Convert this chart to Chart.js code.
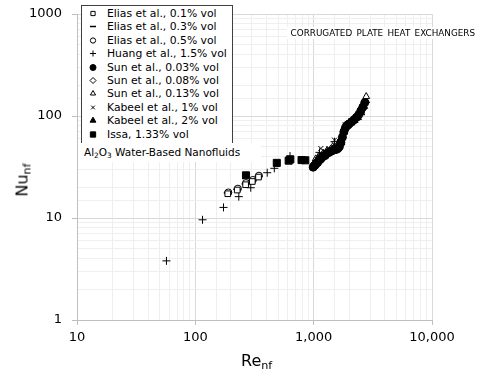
<!DOCTYPE html>
<html>
<head>
<meta charset="utf-8">
<script src="https://cdn.jsdelivr.net/npm/chart.js@4/dist/chart.umd.min.js"></script>
<style>
    body { margin: 0; background: #fff; font-family: "DejaVu Sans", Verdana, sans-serif; color: #000; }
    #wrap { position: relative; width: 480px; height: 376px; }
    #chart { position: absolute; left: 0; top: 0; }
    #legend { position: absolute; left: 81px; top: 5px; width: 152px; height: 143px; border: 1px solid #404040;
              background: #fff; font-size: 10.8px; padding-top: 1px; box-sizing: border-box; }
    .row { position: relative; height: 13.4px; line-height: 13.4px; white-space: nowrap; }
    .row canvas { position: absolute; left: 4px; top: 0; }
    .row span { position: absolute; left: 25px; top: 0; }
    .note { position: absolute; background: #fff; white-space: nowrap; }
    .title { position: absolute; font-size: 16px; white-space: nowrap; }
    sub { font-size: 70%; vertical-align: -0.25em; line-height: 0; }
</style>
</head>
<body>
<div id="wrap">
    <canvas id="chart" width="480" height="376"></canvas>
    <div id="legend"></div>
    <div class="note" style="right: 5px; top: 27px; font-size: 8.8px; word-spacing: 1.5px; padding: 1px 0 1px 4px;">CORRUGATED PLATE HEAT EXCHANGERS</div>
    <div class="note" style="left: 78px; top: 143px; width: 183px; height: 19px; font-size: 10.5px; line-height: 19px; padding-left: 6px; box-sizing: border-box;">Al<sub>2</sub>O<sub>3</sub> Water-Based Nanofluids</div>
    <div class="title" style="left: 241px; top: 351px;">Re<sub>nf</sub></div>
    <div class="title" style="left: 22px; top: 180px; transform: translate(-50%, -50%) rotate(-90deg);">Nu<sub>nf</sub></div>
</div>
<script>
// values (Re, Nu)
var elias01Re = [188, 226, 266, 303, 342];
var elias01Nu = [17.3, 18.8, 21.2, 22.8, 25.2];
var elias03Re = [188, 226, 266, 303, 342];
var elias03Nu = [17.6, 19.1, 21.6, 23.2, 25.6];
var elias05Re = [190, 229, 268, 306, 345];
var elias05Nu = [17.8, 19.4, 22.0, 23.6, 26.0];
var huangRe = [57, 115, 173, 233, 294, 405, 465, 631, 1120, 1500];
var huangNu = [3.8, 9.6, 12.7, 16.2, 19.8, 27.8, 30.7, 40.5, 44, 56];
var sun003Re = [990, 1010, 1030, 1060, 1080, 1120, 1150, 1200, 1250, 1300, 1350, 1400, 1450, 1500, 1550, 1600,
                1650, 1700, 1750, 1800, 1850, 1900, 1950, 2000, 2100, 2200, 2300, 2400, 2500, 2600, 2700];
var sun003Nu = [31.5, 32.5, 33, 34.5, 35, 37, 38, 40, 41, 43, 44, 45, 46, 47, 47, 48,
                50, 55, 62, 70, 76, 80, 82, 84, 88, 92, 97, 103, 112, 122, 135];
var sun008Re = [1000, 1060, 1120, 1200, 1300, 1400, 1500, 1600, 1700, 1800, 1900, 2000];
var sun008Nu = [33, 36, 39, 41, 44, 47, 49, 51, 58, 68, 78, 84];
var sun013Re = [1040, 1100, 1200, 1300, 1450, 1600, 1750, 1850, 2000, 2150, 2300, 2450, 2600, 2700, 2780];
var sun013Nu = [38, 40, 43, 46, 50, 53, 65, 80, 87, 92, 99, 110, 125, 140, 155];
var kabeel1Re = [1150, 1250, 1350, 1500, 1650, 1750, 1850, 2000, 2200, 2400, 2550, 2700];
var kabeel1Nu = [48, 45, 47, 58, 55, 66, 82, 85, 93, 103, 118, 135];
var kabeel2Re = [1100, 1200, 1300, 1400, 1550, 1700, 1800, 1900, 2050, 2200, 2350, 2500, 2650, 2750];
var kabeel2Nu = [39, 42, 45, 47, 49, 55, 70, 80, 86, 91, 97, 108, 125, 142];
var issaRe = [268, 488, 615, 635, 790, 850];
var issaNu = [26.2, 34.7, 36.5, 37.5, 37, 36.8];

var xTicks = [10, 100, 1000, 10000];
var yTicks = [1, 10, 100, 1000];

function pts(xs, ys) {
    return xs.map(function(x, i) { return { x: x, y: ys[i] }; });
}

// label, data, point style, radius, filled
var series = [
    ['Elias et al., 0.1% vol', pts(elias01Re, elias01Nu), 'rect', 4, false],
    ['Elias et al., 0.3% vol', pts(elias03Re, elias03Nu), 'line', 4, true],
    ['Elias et al., 0.5% vol', pts(elias05Re, elias05Nu), 'circle', 3.5, false],
    ['Huang et al., 1.5% vol', pts(huangRe, huangNu), 'cross', 4, true],
    ['Sun et al., 0.03% vol', pts(sun003Re, sun003Nu), 'circle', 4, true],
    ['Sun et al., 0.08% vol', pts(sun008Re, sun008Nu), 'rectRot', 4, false],
    ['Sun et al., 0.13% vol', pts(sun013Re, sun013Nu), 'triangle', 4, false],
    ['Kabeel et al., 1% vol', pts(kabeel1Re, kabeel1Nu), 'crossRot', 3.5, true],
    ['Kabeel et al., 2% vol', pts(kabeel2Re, kabeel2Nu), 'triangle', 4.5, true],
    ['Issa, 1.33% vol', pts(issaRe, issaNu), 'rect', 5, true]
];

function isPow10(v) {
    var l = Math.log10(v);
    return Math.abs(l - Math.round(l)) < 1e-9;
}

var datasets = series.map(function(s) {
    return {
        label: s[0],
        data: s[1],
        pointStyle: s[2],
        pointRadius: s[3],
        pointHoverRadius: s[3],
        borderColor: '#000',
        backgroundColor: s[4] ? '#000' : '#fff',
        borderWidth: s[2] == 'line' ? 1.5 : 1,
        showLine: false
    };
});

var gridColor = function(ctx) {
    return ctx.tick && isPow10(ctx.tick.value) ? '#d9d9d9' : '#efefef';
};
var tickColor = function(ctx) {
    return ctx.tick && isPow10(ctx.tick.value) ? '#bfbfbf' : 'rgba(0,0,0,0)';
};

new Chart(document.getElementById('chart'), {
    type: 'scatter',
    data: { datasets: datasets },
    options: {
        responsive: false,
        animation: false,
        events: [],
        layout: { padding: { left: 0, right: 48, top: 14, bottom: 0 } },
        plugins: { legend: { display: false }, tooltip: { enabled: false } },
        scales: {
            x: {
                type: 'logarithmic',
                min: xTicks[0],
                max: xTicks[xTicks.length - 1],
                border: { color: '#bfbfbf' },
                grid: { color: gridColor, tickColor: tickColor, tickLength: 5 },
                ticks: {
                    autoSkip: false,
                    maxRotation: 0,
                    padding: 5,
                    color: '#000',
                    font: { family: 'DejaVu Sans', size: 13 },
                    callback: function(v) {
                        return xTicks.indexOf(v) >= 0 ? Number(v).toLocaleString('en-US') : '';
                    }
                },
                afterFit: function(scale) { scale.height = 56; }
            },
            y: {
                type: 'logarithmic',
                min: yTicks[0],
                max: yTicks[yTicks.length - 1],
                border: { color: '#bfbfbf' },
                grid: { color: gridColor, tickColor: tickColor, tickLength: 5 },
                ticks: {
                    autoSkip: false,
                    padding: 10,
                    color: '#000',
                    font: { family: 'DejaVu Sans', size: 13 },
                    callback: function(v) {
                        return yTicks.indexOf(v) >= 0 ? String(v) : '';
                    }
                },
                afterFit: function(scale) {
                    scale.width = 77;
                    // tick padding would otherwise push the plot top down
                    scale.paddingTop = 8;
                    scale.paddingBottom = 8;
                }
            }
        }
    }
});

// legend box drawn by hand so it can sit inside the plot area
var legend = document.getElementById('legend');
series.forEach(function(s, i) {
    var row = document.createElement('div');
    row.className = 'row';
    var c = document.createElement('canvas');
    c.width = 14; c.height = 13;
    var ctx = c.getContext('2d');
    ctx.strokeStyle = '#000';
    ctx.fillStyle = s[4] ? '#000' : '#fff';
    ctx.lineWidth = s[2] == 'line' ? 1.5 : 1;
    Chart.helpers.drawPoint(ctx, { pointStyle: s[2], radius: s[3] * 0.75, rotation: 0, borderWidth: ctx.lineWidth }, 7, 6.5);
    row.appendChild(c);
    var t = document.createElement('span');
    t.textContent = s[0];
    row.appendChild(t);
    legend.appendChild(row);
});
</script>
</body>
</html>
